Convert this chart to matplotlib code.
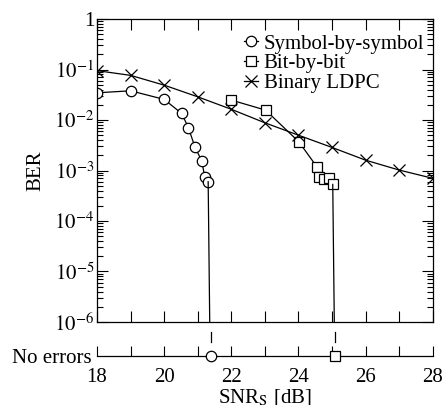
import math
import matplotlib
matplotlib.use("Agg")
import matplotlib.pyplot as plt
from matplotlib.ticker import LogLocator, FixedLocator, NullFormatter, FuncFormatter

plt.rcParams['font.family'] = ['Liberation Serif', 'DejaVu Serif']
plt.rcParams['mathtext.fontset'] = 'stix'
plt.rcParams['font.size'] = 15

# Symbol-by-symbol decoding
sym_snr = [18.0, 19.0, 20.0, 20.52, 20.72, 20.92, 21.12, 21.21, 21.31]
sym_ber = [0.0346, 0.0379, 0.0256, 0.0135, 0.0071, 0.00286, 0.00155, 0.00073, 0.0006]
sym_noerr = 21.39

# Bit-by-bit decoding
bit_snr = [22.0, 23.02, 24.01, 24.55, 24.62, 24.77, 24.92, 25.02]
bit_ber = [0.0248, 0.0157, 0.0037, 0.00118, 0.00076, 0.00068, 0.0007, 0.00053]
bit_noerr = 25.1

# Binary LDPC
ldpc_snr = [18, 19, 20, 21, 22, 23, 24, 25, 26, 27, 28]
ldpc_ber = [0.095, 0.0766, 0.049, 0.0288, 0.0163, 0.0088, 0.0050, 0.00286, 0.0016, 0.00102, 0.0007]

x_ticks = list(range(18, 29))
x_labels = [str(v) if v % 2 == 0 else '' for v in x_ticks]
y_ticks = [1e-6, 1e-5, 1e-4, 1e-3, 1e-2, 1e-1, 1]

fig = plt.figure(figsize=(4.43, 4.05), dpi=100)
ax = fig.add_axes([0.219, 0.205, 0.758, 0.748])
lw = 0.9
mk = dict(markerfacecolor='white', markeredgecolor='black', markeredgewidth=0.9)

ax.plot(sym_snr, sym_ber, '-o', color='black', lw=lw, ms=7.5, label='Symbol-by-symbol', **mk)
ax.plot(bit_snr, bit_ber, '-s', color='black', lw=lw, ms=7.5, label='Bit-by-bit', **mk)
ax.plot(ldpc_snr, ldpc_ber, '-x', color='black', lw=lw, ms=8, mew=0.9, label='Binary LDPC')
# drop to "no errors"
ax.plot([sym_snr[-1], sym_noerr], [sym_ber[-1], 1e-8], color='black', lw=lw)
ax.plot([bit_snr[-1], bit_noerr], [bit_ber[-1], 1e-8], color='black', lw=lw)

ax.set_yscale('log')
ax.set_ylim(1e-6, 1)
ax.set_xlim(18, 28)
ax.set_xticks(x_ticks)
ax.set_xticklabels([])
ax.yaxis.set_major_locator(FixedLocator(y_ticks))
ax.yaxis.set_major_formatter(FuncFormatter(
    lambda v, p: '1' if v >= 1 else r'$10^{%d}$' % round(math.log10(v))))
ax.yaxis.set_minor_locator(LogLocator(base=10, subs=range(2, 10), numticks=20))
ax.yaxis.set_minor_formatter(NullFormatter())
ax.tick_params(which='both', direction='in', top=True, right=True, width=0.8)
ax.tick_params(which='major', length=8)
ax.tick_params(axis='y', which='major', pad=2)
ax.tick_params(which='minor', length=4)
ax.set_ylabel('BER', labelpad=6)
for s in ax.spines.values():
    s.set_linewidth(0.9)

ax.legend(loc='upper right', bbox_to_anchor=(0.98, 0.957), frameon=False,
          handlelength=0.7, handletextpad=0.25, labelspacing=0.0,
          borderaxespad=0, borderpad=0.1, fontsize=15)

# "No errors" strip
ax2 = fig.add_axes([0.219, 0.12, 0.758, 0.085])
ax2.set_xlim(18, 28)
ax2.set_ylim(0, 1)
for side in ['top', 'left', 'right']:
    ax2.spines[side].set_visible(False)
ax2.spines['bottom'].set_linewidth(0.9)
ax2.patch.set_alpha(0)
ax2.set_xticks(x_ticks)
ax2.set_xticklabels(x_labels)
ax2.tick_params(axis='x', direction='in', length=7, width=0.8, pad=8)
ax2.set_yticks([0])
ax2.set_yticklabels(['No errors'])
ax2.tick_params(axis='y', length=0, pad=4)
ax2.plot([sym_noerr], [0], 'o', ms=7.5, clip_on=False, zorder=5, **mk)
ax2.plot([bit_noerr], [0], 's', ms=7.5, clip_on=False, zorder=5, **mk)
for xv in [sym_noerr, bit_noerr]:
    ax2.plot([xv, xv], [0.42, 0.72], color='black', lw=lw)
ax2.set_xlabel(r'SNR$_\mathrm{S}$ [dB]', labelpad=0)

fig.savefig('out.png', dpi=100)
